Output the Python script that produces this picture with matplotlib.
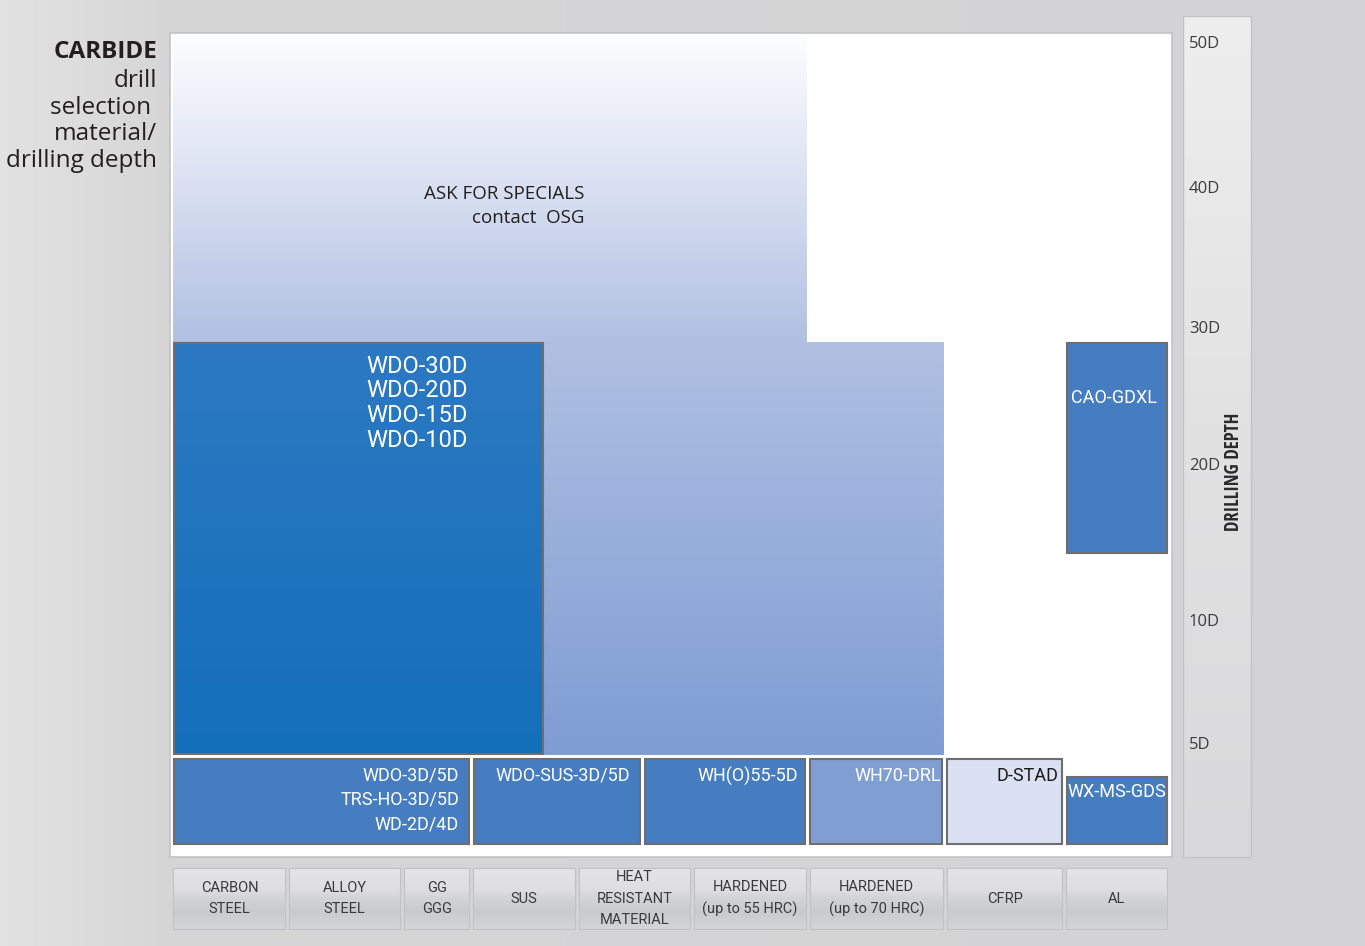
import numpy as np
import matplotlib.pyplot as plt
from matplotlib.patches import Rectangle, Polygon
from matplotlib.colors import LinearSegmentedColormap

# ---------------- data ----------------
materials = ['CARBON\nSTEEL', 'ALLOY\nSTEEL', 'GG\nGGG', 'SUS',
             'HEAT\nRESISTANT\nMATERIAL', 'HARDENED\n(up to 55 HRC)',
             'HARDENED\n(up to 70 HRC)', 'CFRP', 'AL']

depth_ticks = [5, 10, 20, 30, 40, 50]
depth_labels = ['5D', '10D', '20D', '30D', '40D', '50D']

# drill families: material columns covered (start/end) and depth range in D
products = ['WDO-30D\nWDO-20D\nWDO-15D\nWDO-10D',
            'WDO-3D/5D\nTRS-HO-3D/5D\nWD-2D/4D',
            'WDO-SUS-3D/5D', 'WH(O)55-5D', 'WH70-DRL', 'D-STAD',
            'WX-MS-GDS', 'CAO-GDXL']
prod_start = [0, 0, 3, 4.57, 6, 7, 8, 8]
prod_end = [3.7, 3, 4.57, 6, 7, 8, 9, 9]
prod_min = [5, 0, 0, 0, 0, 0, 0, 15]
prod_max = [30, 5, 5, 5, 5, 5, 4, 30]

# "ask for specials" area (52 = top of the chart)
spec_start = [0, 6]
spec_end = [6, 7]
spec_max = [52, 30]
spec_min = 5

# ---------------- layout / style ----------------
W, H = 1365, 946
col_idx = [-0.02, 0, 1, 2, 3, 4, 5, 6, 7, 8, 9, 9.03]
col_px = [170, 171.5, 287.5, 402, 471.5, 577, 692, 808, 945, 1064.5, 1169.5, 1172]
lvl = [-0.7, 0, 5, 10, 20, 30, 40, 50, 52]
lvl_px = [857, 846, 756, 633, 477, 340, 200, 55, 33]
lvl_neg = [-p for p in lvl_px]

prod_colors = ['#2a76c0', '#467dc0', '#467dc0', '#467dc0', '#7f9fd3',
               '#dbe1f2', '#467dc0', '#467dc0']
prod_txt = ['white', 'white', 'white', 'white', 'white', '#1a1a1a',
            'white', 'white']
lab_ha = ['right'] * 7 + ['left']
lab_dx = [-75, -10, -10, -7, -2, -3, -1, 4]
lab_dy = [-12, -8, -8, -8, -8, -8, -6, -46]
lab_size = [17, 13, 13, 13, 13, 13, 13, 13]
lab_space = [1.1, 1.45, 1.45, 1.45, 1.45, 1.45, 1.45, 1.45]

plt.rcParams['font.family'] = ['Open Sans', 'DejaVu Sans']
narrow = ['Roboto', 'DejaVu Sans']
narrow_bold = ['Open Sans Condensed', 'Roboto', 'DejaVu Sans']


def x_fwd(v):
    return np.interp(v, col_idx, col_px)


def x_inv(p):
    return np.interp(p, col_px, col_idx)


def y_fwd(d):
    return np.interp(d, lvl, lvl_neg)


def y_inv(p):
    return np.interp(p, lvl_neg, lvl)


def inset(axis, x0, x1, y0, y1, pad):
    pts = axis.transData.transform([(x0, y0), (x1, y1)])
    pts = pts + np.array([[pad, pad], [-pad, -pad]])
    (a, b), (c, d) = axis.transData.inverted().transform(pts)
    return a, b, c - a, d - b


def grad_image(axis, clip, stops, zorder):
    cmap = LinearSegmentedColormap.from_list('g', stops)
    ramp = np.linspace(0, 1, 256).reshape(-1, 1)
    im = axis.imshow(ramp, cmap=cmap, origin='lower', extent=[0, 1, 0, 1],
                     transform=axis.transAxes, aspect='auto', vmin=0, vmax=1,
                     interpolation='bilinear', zorder=zorder)
    im.set_clip_path(clip)
    return im


fig = plt.figure(figsize=(W / 100, H / 100), dpi=100)

# background
bg = fig.add_axes([0, 0, 1, 1], zorder=0)
bg_cmap = LinearSegmentedColormap.from_list(
    'bg', [(0, '#e2e2e3'), (0.12, '#d6d6d7'), (1, '#d3d3d5')])
bg.imshow(np.linspace(0, 1, 400).reshape(1, -1), cmap=bg_cmap, aspect='auto',
          extent=[0, W, H, 0], zorder=0)

# right depth panel
side = Rectangle((1183, 16), 68, 841, facecolor='none', edgecolor='#c3c3c5',
                 lw=1, zorder=2)
bg.add_patch(side)
grad_image(bg, side, [(0, '#d9d9db'), (0.094, '#d9d9db'), (0.55, '#e2e2e3'),
                      (0.983, '#eeeeef'), (1, '#eeeeef')], 1)
bg.text(1234, 472, 'DRILLING DEPTH', rotation=90, ha='center', va='center',
        fontsize=13.5, fontweight='bold', color='#2a2a2a', family=narrow_bold)

# title on the left
bg.text(157, 52, 'CARBIDE', ha='right', va='center', fontsize=17.5,
        fontweight='bold', color='#231f20')
for txt, yy in zip(['drill', 'selection ', 'material/', 'drilling depth'],
                   [81, 108, 134, 161]):
    bg.text(157, yy, txt, ha='right', va='center', fontsize=17.5, color='#231f20')
bg.set_xlim(0, W)
bg.set_ylim(H, 0)
bg.axis('off')

# main panel
ax = fig.add_axes([170 / W, 1 - 857 / H, 1002 / W, 824 / H], zorder=2)
ax.set_xscale('function', functions=(x_fwd, x_inv))
ax.set_yscale('function', functions=(y_fwd, y_inv))
ax.set_xlim(-0.02, 9.03)
ax.set_ylim(-0.7, 52)
ax.set_xticks([])
ax.set_yticks([])
ax.set_facecolor('white')
for sp in ax.spines.values():
    sp.set_color('#c4c4c7')
    sp.set_linewidth(1.2)

# ask for specials area
verts = [(spec_start[0], spec_min), (spec_end[-1], spec_min)]
for s, e, m in zip(spec_start[::-1], spec_end[::-1], spec_max[::-1]):
    verts += [(e, m), (s, m)]
spec = Polygon(verts, closed=True, facecolor='none', edgecolor='white',
               lw=2.2, zorder=1.5)
ax.add_patch(spec)
grad_image(ax, spec, [(0, '#7e9dd4'), (0.125, '#7e9dd4'), (0.626, '#b0c0e2'),
                      (0.834, '#dde3f3'), (0.919, '#eef1f9'), (1, '#fcfdfe')], 1)
ax.text(0.414, 0.79, 'ASK FOR SPECIALS\ncontact  OSG', transform=ax.transAxes,
        ha='right', va='center', multialignment='right', fontsize=13.5,
        color='#231f20', linespacing=1.4, zorder=4)

# drill boxes
for i, name in enumerate(products):
    a, b, w, h = inset(ax, prod_start[i], prod_end[i], prod_min[i],
                       prod_max[i], 2.5)
    if i == 0:
        box = Rectangle((a, b), w, h, facecolor='none', edgecolor='#6e6e6e',
                        lw=1.5, zorder=3)
        ax.add_patch(box)
        grad_image(ax, box, [(0, '#146fba'), (0.125, '#146fba'),
                             (0.626, '#2c79c2'), (1, '#2c79c2')], 2)
    else:
        box = Rectangle((a, b), w, h, facecolor=prod_colors[i],
                        edgecolor='#6e6e6e', lw=1.5, zorder=3)
        ax.add_patch(box)
    xa = a + w if lab_ha[i] == 'right' else a
    ax.annotate(name, xy=(xa, b + h), xycoords='data', xytext=(lab_dx[i], lab_dy[i]),
                textcoords='offset pixels', ha=lab_ha[i], va='top',
                multialignment=lab_ha[i], fontsize=lab_size[i],
                color=prod_txt[i], family=narrow, linespacing=lab_space[i],
                zorder=4, annotation_clip=False)

# depth labels on the right
for d, lab in zip(depth_ticks, depth_labels):
    ax.annotate(lab, xy=(1, d), xycoords=('axes fraction', 'data'),
                xytext=(17, 11), textcoords='offset pixels', ha='left',
                va='center', fontsize=12, color='#3c3c3c',
                annotation_clip=False)

# material buttons along the bottom
bx = fig.add_axes([170 / W, 1 - 931 / H, 1002 / W, 65 / H], sharex=ax, zorder=2)
bx.set_ylim(0, 1)
bx.axis('off')
for i, mat in enumerate(materials):
    a, b, w, h = inset(bx, i, i + 1, 0, 1, 2)
    btn = Rectangle((a, b), w, h, facecolor='none', edgecolor='#c2c2c4',
                    lw=0.8, zorder=3)
    bx.add_patch(btn)
    grad_image(bx, btn, [(0, '#d6d6d8'), (0.3, '#cacbcd'), (0.5, '#d4d4d6'),
                         (0.62, '#dedee0'), (1, '#e6e6e8')], 2)
    bx.text(i + 0.5, 0.5, mat, ha='center', va='center', fontsize=10.5,
            color='#3a3a3a', family=narrow, linespacing=1.7, zorder=4)
bx.set_xlim(-0.02, 9.03)
bx.set_ylim(0, 1)
ax.set_ylim(-0.7, 52)

fig.savefig('out.png', dpi=100)
